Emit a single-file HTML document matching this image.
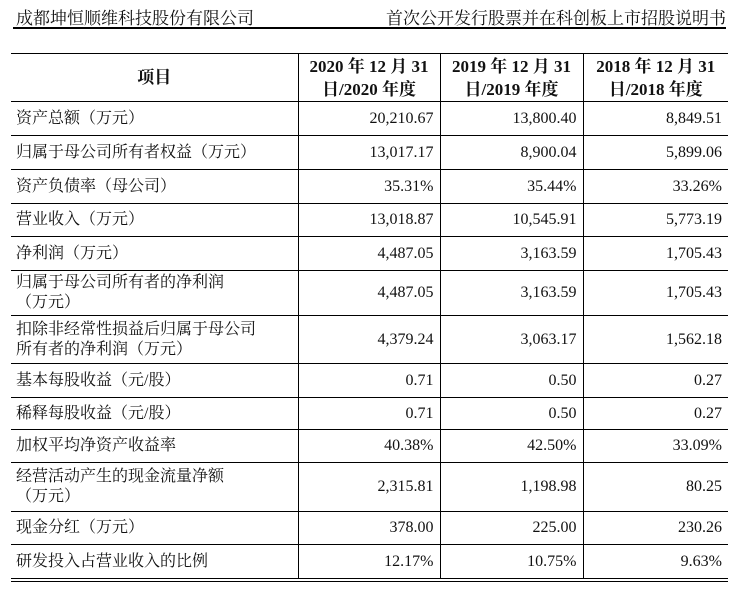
<!DOCTYPE html>
<html><head><meta charset="utf-8"><style>
body{margin:0;width:744px;height:589px;background:#fff;position:relative;overflow:hidden;font-family:"Liberation Serif","Noto Serif CJK SC","Noto Sans CJK SC",serif;color:#111}
.hdr{position:absolute;top:4px;font-size:17px;font-family:"Liberation Serif","Noto Serif CJK SC",serif}
.rule{position:absolute;left:13px;width:713px;top:27px;height:2px;background:#000}
table{position:absolute;left:11px;top:53px;width:717px;border-collapse:collapse;table-layout:fixed;font-size:16px}
td,th{border-top:1px solid #000;border-bottom:1px solid #000;padding:0;line-height:20px;overflow:hidden}
td+td,th+th{border-left:1px solid #000}
td:first-child{padding-left:5px;text-align:left}
td.n{text-align:right;padding-right:6px}
th{font-weight:bold;font-size:17px;line-height:23px;white-space:nowrap}
.bot{position:absolute;left:11px;width:717px;top:581px;height:1px;background:#000}
</style></head><body>
<div class="hdr" style="left:16px">成都坤恒顺维科技股份有限公司</div>
<div class="hdr" style="right:18px">首次公开发行股票并在科创板上市招股说明书</div>
<div class="rule"></div>
<table>
<colgroup><col style="width:287px"><col style="width:142px"><col style="width:143px"><col style="width:145px"></colgroup>
<tr style="height:48px"><th>项目</th><th>2020 年 12 月 31<br>日/2020 年度</th><th>2019 年 12 月 31<br>日/2019 年度</th><th>2018 年 12 月 31<br>日/2018 年度</th></tr>
<tr style="height:34px"><td>资产总额（万元）</td><td class="n">20,210.67</td><td class="n">13,800.40</td><td class="n">8,849.51</td></tr>
<tr style="height:34px"><td>归属于母公司所有者权益（万元）</td><td class="n">13,017.17</td><td class="n">8,900.04</td><td class="n">5,899.06</td></tr>
<tr style="height:34px"><td>资产负债率（母公司）</td><td class="n">35.31%</td><td class="n">35.44%</td><td class="n">33.26%</td></tr>
<tr style="height:33px"><td>营业收入（万元）</td><td class="n">13,018.87</td><td class="n">10,545.91</td><td class="n">5,773.19</td></tr>
<tr style="height:34px"><td>净利润（万元）</td><td class="n">4,487.05</td><td class="n">3,163.59</td><td class="n">1,705.43</td></tr>
<tr style="height:45px"><td>归属于母公司所有者的净利润<br>（万元）</td><td class="n">4,487.05</td><td class="n">3,163.59</td><td class="n">1,705.43</td></tr>
<tr style="height:48px"><td>扣除非经常性损益后归属于母公司<br>所有者的净利润（万元）</td><td class="n">4,379.24</td><td class="n">3,063.17</td><td class="n">1,562.18</td></tr>
<tr style="height:34px"><td>基本每股收益（元/股）</td><td class="n">0.71</td><td class="n">0.50</td><td class="n">0.27</td></tr>
<tr style="height:32px"><td>稀释每股收益（元/股）</td><td class="n">0.71</td><td class="n">0.50</td><td class="n">0.27</td></tr>
<tr style="height:33px"><td>加权平均净资产收益率</td><td class="n">40.38%</td><td class="n">42.50%</td><td class="n">33.09%</td></tr>
<tr style="height:49px"><td>经营活动产生的现金流量净额<br>（万元）</td><td class="n">2,315.81</td><td class="n">1,198.98</td><td class="n">80.25</td></tr>
<tr style="height:33px"><td>现金分红（万元）</td><td class="n">378.00</td><td class="n">225.00</td><td class="n">230.26</td></tr>
<tr style="height:34px"><td>研发投入占营业收入的比例</td><td class="n">12.17%</td><td class="n">10.75%</td><td class="n">9.63%</td></tr>
</table>
<div class="bot"></div>
</body></html>
